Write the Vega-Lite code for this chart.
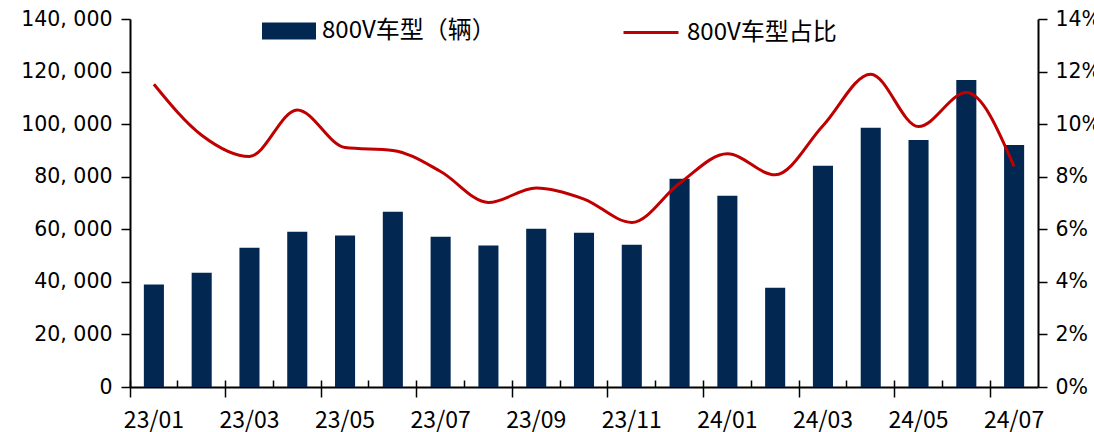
{
  "$schema": "https://vega.github.io/schema/vega-lite/v6.json",
  "width": 908,
  "height": 368,
  "autosize": {"type": "none"},
  "padding": {"left": 130, "top": 19, "right": 56, "bottom": 45},
  "background": "white",
  "config": {"view": {"stroke": null}},
  "data": {
    "values": [
      {"month": "23/01", "vehicles": 38950, "share": 0.1152},
      {"month": "23/02", "vehicles": 43500, "share": 0.0958},
      {"month": "23/03", "vehicles": 53000, "share": 0.0877},
      {"month": "23/04", "vehicles": 59100, "share": 0.1054},
      {"month": "23/05", "vehicles": 57600, "share": 0.0911},
      {"month": "23/06", "vehicles": 66700, "share": 0.09},
      {"month": "23/07", "vehicles": 57200, "share": 0.082},
      {"month": "23/08", "vehicles": 53800, "share": 0.0702},
      {"month": "23/09", "vehicles": 60200, "share": 0.0757},
      {"month": "23/10", "vehicles": 58700, "share": 0.0715},
      {"month": "23/11", "vehicles": 54150, "share": 0.0626},
      {"month": "23/12", "vehicles": 79200, "share": 0.0775},
      {"month": "24/01", "vehicles": 72800, "share": 0.0887},
      {"month": "24/02", "vehicles": 37800, "share": 0.0807},
      {"month": "24/03", "vehicles": 84200, "share": 0.0994},
      {"month": "24/04", "vehicles": 98600, "share": 0.119},
      {"month": "24/05", "vehicles": 94000, "share": 0.0991},
      {"month": "24/06", "vehicles": 116800, "share": 0.112},
      {"month": "24/07", "vehicles": 92100, "share": 0.0839}
    ]
  },
  "layer": [
    {
      "mark": {"type": "bar", "width": {"band": 0.42}},
      "encoding": {
        "x": {
          "field": "month", "type": "ordinal", "sort": null,
          "scale": {"paddingInner": 0, "paddingOuter": 0},
          "axis": {
            "orient": "bottom", "title": null, "grid": false, "labelAngle": 0,
            "values": ["23/01", "23/03", "23/05", "23/07", "23/09", "23/11", "24/01", "24/03", "24/05", "24/07"],
            "bandPosition": 0,
            "tickSize": 10, "tickWidth": 1.5, "tickColor": "black",
            "domainColor": "black", "domainWidth": 2,
            "labelFont": "Noto Sans CJK SC", "labelFontSize": 23, "labelColor": "black", "labelPadding": 12
          }
        },
        "y": {
          "field": "vehicles", "type": "quantitative",
          "scale": {"domain": [0, 140000], "nice": false},
          "axis": {
            "orient": "left", "title": null, "grid": false,
            "values": [0, 20000, 40000, 60000, 80000, 100000, 120000, 140000],
            "labelExpr": "replace(format(datum.value, ','), ',', ', ')",
            "tickSize": 9, "tickWidth": 1.5, "tickColor": "black",
            "domainColor": "black", "domainWidth": 2,
            "labelFont": "DejaVu Sans", "labelFontSize": 20.5, "labelColor": "black", "labelPadding": 9
          }
        },
        "fill": {
          "datum": "800V车型（辆）", "type": "nominal",
          "scale": {"range": ["#022852"]},
          "legend": {
            "orient": "none", "legendX": 132, "legendY": -15, "title": null, "padding": 0,
            "symbolType": "M-1,-0.315H1V0.315H-1Z", "symbolSize": 2916, "symbolStrokeWidth": 0,
            "labelFont": "Noto Sans CJK SC", "labelFontSize": 24, "labelColor": "black", "labelOffset": 6, "labelLimit": 400
          }
        }
      }
    },
    {
      "mark": {"type": "line", "interpolate": "monotone", "strokeWidth": 3},
      "encoding": {
        "x": {
          "field": "month", "type": "ordinal", "sort": null,
          "scale": {"paddingInner": 0, "paddingOuter": 0},
          "axis": {
            "orient": "bottom", "title": null, "grid": false, "labels": false, "domain": false,
            "bandPosition": 0,
            "tickSize": -7, "tickWidth": 1.5, "tickColor": "black"
          }
        },
        "y": {
          "field": "share", "type": "quantitative",
          "scale": {"domain": [0, 0.14], "nice": false},
          "axis": {
            "orient": "right", "title": null, "grid": false,
            "values": [0, 0.02, 0.04, 0.06, 0.08, 0.1, 0.12, 0.14],
            "format": ".0%",
            "tickSize": 9, "tickWidth": 1.5, "tickColor": "black",
            "domainColor": "black", "domainWidth": 2,
            "labelFont": "DejaVu Sans", "labelFontSize": 20.5, "labelColor": "black", "labelPadding": 8
          }
        },
        "stroke": {
          "datum": "800V车型占比", "type": "nominal",
          "scale": {"range": ["#C00000"]},
          "legend": {
            "orient": "none", "legendX": 492, "legendY": -15.5, "title": null, "padding": 0,
            "symbolType": "stroke", "symbolSize": 3025, "symbolStrokeWidth": 3,
            "labelFont": "Noto Sans CJK SC", "labelFontSize": 24, "labelColor": "black", "labelOffset": 7, "labelLimit": 400
          }
        }
      }
    }
  ],
  "resolve": {"scale": {"y": "independent"}, "axis": {"x": "independent"}}
}
